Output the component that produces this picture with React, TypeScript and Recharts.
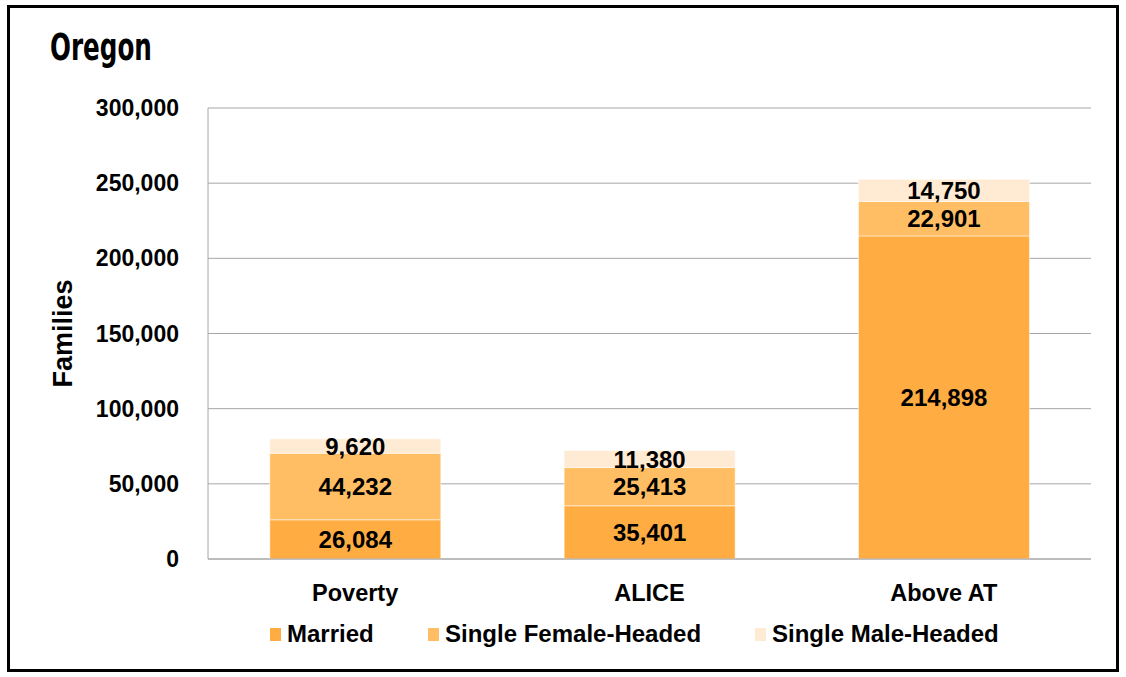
import React from 'react';
import { BarChart, Bar, XAxis, YAxis, CartesianGrid, Legend, LabelList } from 'recharts';

const categories = ['Poverty', 'ALICE', 'Above AT'];
const married = [26084, 35401, 214898];
const singleFemale = [44232, 25413, 22901];
const singleMale = [9620, 11380, 14750];
const yTicks = [0, 50000, 100000, 150000, 200000, 250000, 300000];

const series = [
  { key: 'married', name: 'Married', color: '#FFAD42' },
  { key: 'female', name: 'Single Female-Headed', color: '#FFBE63' },
  { key: 'male', name: 'Single Male-Headed', color: '#FFEBD3' },
];

const data = categories.map((name, i) => ({
  name,
  married: married[i],
  female: singleFemale[i],
  male: singleMale[i],
}));

const FONT = '"Liberation Sans", Arial, sans-serif';
const fmt = (v: any) => Number(v).toLocaleString('en-US');

// legend squares are placed by hand to match the original spacing
const legendLefts = [270, 428, 755];

const renderLegend = () => (
  <div style={{ position: 'relative', height: 30, fontFamily: FONT, fontWeight: 'bold', fontSize: 24 }}>
    {series.map((s, i) => (
      <div
        key={s.key}
        style={{ position: 'absolute', left: legendLefts[i], top: 0, display: 'flex', alignItems: 'center', whiteSpace: 'nowrap' }}
      >
        <span style={{ display: 'inline-block', width: 11, height: 13, background: s.color, marginRight: 6 }} />
        <span style={{ color: '#000' }}>{s.name}</span>
      </div>
    ))}
  </div>
);

export default function App() {
  return (
    <div style={{ position: 'absolute', left: 0, top: 0, width: 1126, height: 677, background: '#fff' }}>
      <div
        style={{
          position: 'absolute', left: 7, top: 5, width: 1112, height: 667,
          border: '3px solid #000', boxSizing: 'border-box',
        }}
      />
      <div
        style={{
          position: 'absolute', left: 50, top: 29, fontFamily: '"DejaVu Sans Condensed", "DejaVu Sans", sans-serif',
          fontWeight: 'bold', fontSize: 37, color: '#000', transform: 'scaleX(0.74)', transformOrigin: 'left top',
          lineHeight: 1,
        }}
      >
        Oregon
      </div>
      <div style={{ position: 'absolute', left: 0, top: 0 }}>
        <BarChart
          width={1126}
          height={677}
          data={data}
          margin={{ top: 108, right: 35, bottom: 30, left: 28 }}
          barCategoryGap="21%"
        >
          <CartesianGrid vertical={false} stroke="#A6A6A6" strokeWidth={1} />
          <XAxis
            dataKey="name"
            axisLine={{ stroke: '#A6A6A6' }}
            tickLine={false}
            tickSize={0}
            tickMargin={25}
            height={58}
            tick={{ fill: '#000', fontFamily: FONT, fontWeight: 'bold', fontSize: 23.5 }}
          />
          <YAxis
            width={180}
            domain={[0, 300000]}
            ticks={yTicks}
            interval={0}
            tickFormatter={fmt}
            axisLine={{ stroke: '#A6A6A6' }}
            tickLine={false}
            tickSize={0}
            tickMargin={29}
            tick={{ fill: '#000', fontFamily: FONT, fontWeight: 'bold', fontSize: 23 }}
            label={{
              value: 'Families', angle: -90, position: 'center', dx: -56,
              style: { fill: '#000', fontFamily: FONT, fontWeight: 'bold', fontSize: 27, textAnchor: 'middle' },
            }}
          />
          <Legend
            verticalAlign="bottom"
            content={renderLegend}
            wrapperStyle={{ position: 'absolute', left: 0, top: 620, width: 1126, height: 30 }}
          />
          {series.map((s) => (
            <Bar
              key={s.key}
              dataKey={s.key}
              name={s.name}
              stackId="a"
              fill={s.color}
              stroke="#ffffff"
              strokeOpacity={0.5}
              strokeWidth={1}
              isAnimationActive={false}
            >
              <LabelList
                dataKey={s.key}
                position="center"
                formatter={fmt}
                style={{ fill: '#000', fontFamily: FONT, fontWeight: 'bold', fontSize: 24 }}
              />
            </Bar>
          ))}
        </BarChart>
      </div>
    </div>
  );
}
